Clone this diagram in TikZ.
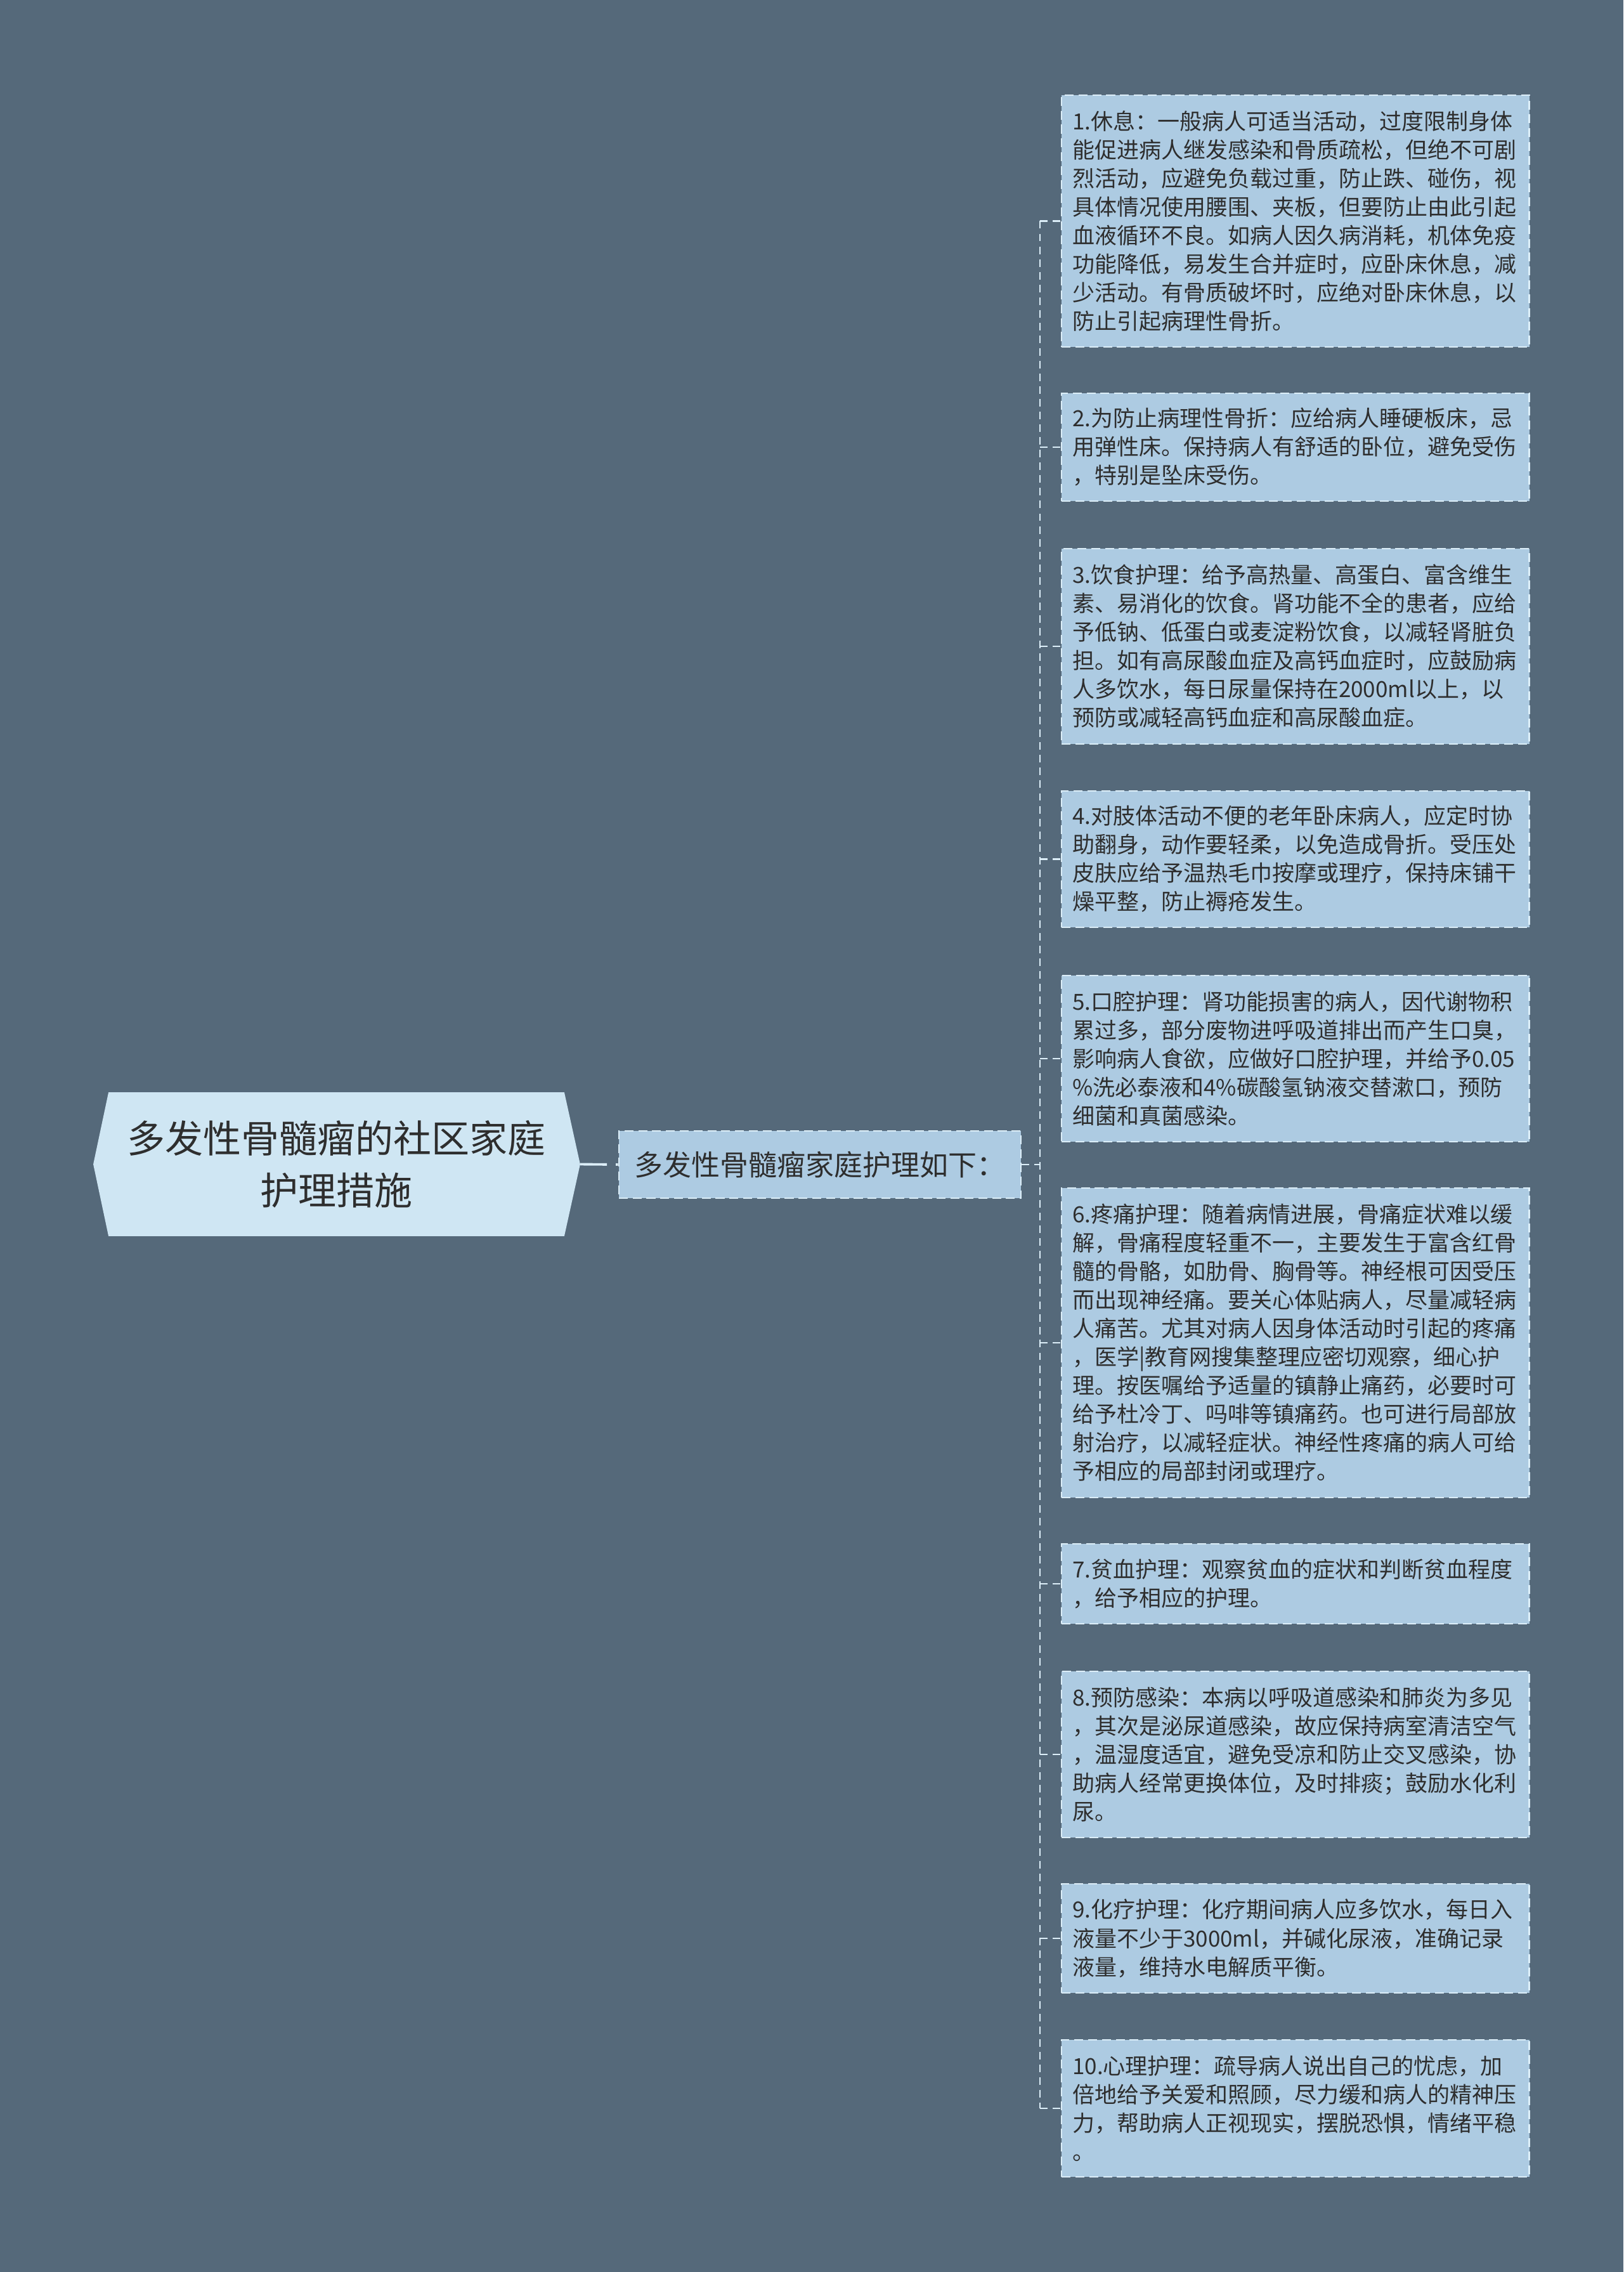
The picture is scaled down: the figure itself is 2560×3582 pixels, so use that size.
\documentclass[tikz,border=0pt]{standalone}
\usepackage{fontspec}
\setmainfont{Noto Sans CJK SC}
\usetikzlibrary{backgrounds,calc}
\definecolor{bgcol}{HTML}{55697A}
\definecolor{rootfill}{HTML}{CFE6F3}
\definecolor{boxfill}{HTML}{ADCBE2}
\definecolor{edgecol}{HTML}{DCEEF8}
\definecolor{txtcol}{HTML}{2E2E2E}
\newcommand\pxu{0.28453pt}
\begin{document}
\begin{tikzpicture}[x=0.01cm,y=-0.01cm,
  leaf/.style={draw=edgecol, fill=boxfill, dash pattern=on 4pt off 2.2pt, line width=0.7pt,
    text=txtcol, text width={703*\pxu}, inner xsep={17*\pxu}, inner ysep=0pt, align=left,
    minimum width={737*\pxu}, anchor=west,
    font=\fontsize{9.95pt}{12.8pt}\selectfont},
  rootnode/.style={text=txtcol, align=center, minimum width={717*\pxu}, minimum height={225*\pxu},
    inner sep=0pt, font=\fontsize{17.07pt}{23.3pt}\selectfont},
  childnode/.style={draw=edgecol, fill=boxfill, dash pattern=on 4pt off 2.2pt, line width=0.7pt,
    text=txtcol, minimum width={634*\pxu}, minimum height={106*\pxu}, inner sep=0pt,
    font=\fontsize{12.8pt}{15pt}\selectfont},
  mainconn/.style={draw=edgecol, line width=1.1pt, dash pattern=on 12pt off 4pt},
  conn/.style={draw=edgecol, line width=0.6pt, dash pattern=on 3.4pt off 2.3pt}
]
\useasboundingbox (0,0) rectangle (2560,3582);
\begin{scope}[on background layer]
\fill[bgcol] (0,0) rectangle (2560,3582);
\end{scope}

\node[rootnode] (root) at (530.5,1835.5) {多发性骨髓瘤的社区家庭\\护理措施};
\begin{scope}[on background layer]
\fill[rootfill] (root.north west) -- (root.north east) -- ($(root.east)+(25,0)$) -- (root.south east)
  -- (root.south west) -- ($(root.west)+(-24,0)$) -- cycle;
\end{scope}
\coordinate (rtip) at ($(root.east)+(25,0)$);

\node[childnode] (child) at (1293,1836) {多发性骨髓瘤家庭护理如下：};

\node[leaf, minimum height={397*\pxu}] (b1) at (1673,348.5) {1.休息：一般病人可适当活动，过度限制身体\\能促进病人继发感染和骨质疏松，但绝不可剧\\烈活动，应避免负载过重，防止跌、碰伤，视\\具体情况使用腰围、夹板，但要防止由此引起\\血液循环不良。如病人因久病消耗，机体免疫\\功能降低，易发生合并症时，应卧床休息，减\\少活动。有骨质破坏时，应绝对卧床休息，以\\防止引起病理性骨折。};
\node[leaf, minimum height={170*\pxu}] (b2) at (1673,705) {2.为防止病理性骨折：应给病人睡硬板床，忌\\用弹性床。保持病人有舒适的卧位，避免受伤\\，特别是坠床受伤。};
\node[leaf, minimum height={308*\pxu}] (b3) at (1673,1019) {3.饮食护理：给予高热量、高蛋白、富含维生\\素、易消化的饮食。肾功能不全的患者，应给\\予低钠、低蛋白或麦淀粉饮食，以减轻肾脏负\\担。如有高尿酸血症及高钙血症时，应鼓励病\\人多饮水，每日尿量保持在2000ml以上，以\\预防或减轻高钙血症和高尿酸血症。};
\node[leaf, minimum height={215*\pxu}] (b4) at (1673,1354.5) {4.对肢体活动不便的老年卧床病人，应定时协\\助翻身，动作要轻柔，以免造成骨折。受压处\\皮肤应给予温热毛巾按摩或理疗，保持床铺干\\燥平整，防止褥疮发生。};
\node[leaf, minimum height={262*\pxu}] (b5) at (1673,1669) {5.口腔护理：肾功能损害的病人，因代谢物积\\累过多，部分废物进呼吸道排出而产生口臭，\\影响病人食欲，应做好口腔护理，并给予0.05\\\%洗必泰液和4\%碳酸氢钠液交替漱口，预防\\细菌和真菌感染。};
\node[leaf, minimum height={488*\pxu}] (b6) at (1673,2117) {6.疼痛护理：随着病情进展，骨痛症状难以缓\\解，骨痛程度轻重不一，主要发生于富含红骨\\髓的骨骼，如肋骨、胸骨等。神经根可因受压\\而出现神经痛。要关心体贴病人，尽量减轻病\\人痛苦。尤其对病人因身体活动时引起的疼痛\\，医学|教育网搜集整理应密切观察，细心护\\理。按医嘱给予适量的镇静止痛药，必要时可\\给予杜冷丁、吗啡等镇痛药。也可进行局部放\\射治疗，以减轻症状。神经性疼痛的病人可给\\予相应的局部封闭或理疗。};
\node[leaf, minimum height={126*\pxu}] (b7) at (1673,2497) {7.贫血护理：观察贫血的症状和判断贫血程度\\，给予相应的护理。};
\node[leaf, minimum height={262*\pxu}] (b8) at (1673,2766) {8.预防感染：本病以呼吸道感染和肺炎为多见\\，其次是泌尿道感染，故应保持病室清洁空气\\，温湿度适宜，避免受凉和防止交叉感染，协\\助病人经常更换体位，及时排痰；鼓励水化利\\尿。};
\node[leaf, minimum height={172*\pxu}] (b9) at (1673,3056) {9.化疗护理：化疗期间病人应多饮水，每日入\\液量不少于3000ml，并碱化尿液，准确记录\\液量，维持水电解质平衡。};
\node[leaf, minimum height={216*\pxu}] (b10) at (1673,3324) {10.心理护理：疏导病人说出自己的忧虑，加\\倍地给予关爱和照顾，尽力缓和病人的精神压\\力，帮助病人正视现实，摆脱恐惧，情绪平稳\\。};

\coordinate (tr) at (1640,1836);
\draw[mainconn] (rtip) -- (child.west);
\draw[conn] (child.east) -- (tr);
\draw[conn] (tr |- b1.west) -- (tr |- b10.west);
\foreach \b in {b1,b2,b3,b4,b5,b6,b7,b8,b9,b10}{
  \draw[conn] (tr |- \b.west) -- (\b.west);
}
\end{tikzpicture}
\end{document}
